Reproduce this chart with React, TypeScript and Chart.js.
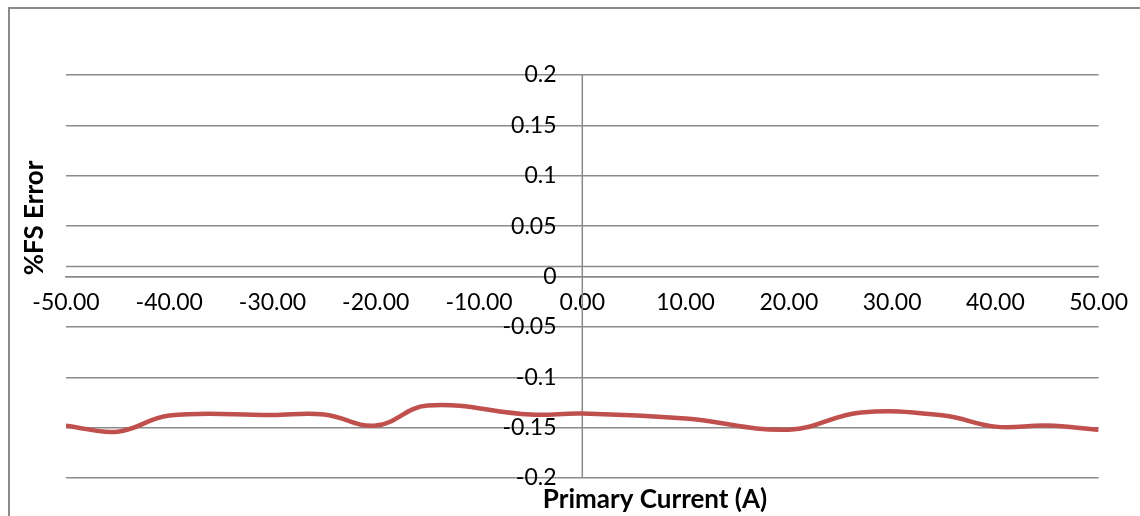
import React, { useEffect, useRef } from 'react';
import { Chart, registerables } from 'chart.js';

Chart.register(...registerables);

const currents = [-50, -45, -40, -30, -25, -20, -15, -5, 0, 10, 20, 27, 35, 40, 45, 50];
const fsError = [
  -0.148, -0.154, -0.138, -0.1375, -0.137, -0.148, -0.128, -0.137, -0.136, -0.141, -0.152,
  -0.135, -0.138, -0.149, -0.148, -0.152,
];

const xTickValues = [-50, -40, -30, -20, -10, 0, 10, 20, 30, 40, 50];
const yTickValues = [0.2, 0.15, 0.1, 0.05, 0, -0.05, -0.1, -0.15, -0.2];

const xTitle = 'Primary Current (A)';
const yTitle = '%FS Error';

const GRID = '#8a8a8a';
const FONT = 'Lato';

const axisTitles = {
  id: 'axisTitles',
  beforeDatasetsDraw(chart: Chart) {
    const { ctx, chartArea } = chart;
    const y0 = chart.scales.y.getPixelForValue(0) - 10;
    const x0 = chart.scales.x.getPixelForValue(0);
    ctx.save();
    ctx.strokeStyle = GRID;
    ctx.lineWidth = 1.5;
    ctx.beginPath();
    // second horizontal rule just above the zero line, as in the original
    ctx.moveTo(chartArea.left, y0);
    ctx.lineTo(chartArea.right, y0);
    // vertical axis line at 0 A
    ctx.moveTo(x0, chartArea.top);
    ctx.lineTo(x0, chartArea.bottom);
    ctx.stroke();
    ctx.restore();
  },
  afterDraw(chart: Chart) {
    const { ctx } = chart;
    ctx.save();
    ctx.font = `bold 26px ${FONT}`;
    ctx.fillStyle = '#000';
    ctx.textAlign = 'center';
    ctx.textBaseline = 'middle';
    ctx.fillText(xTitle, 655, 500);
    ctx.translate(35, 218);
    ctx.rotate(-Math.PI / 2);
    ctx.fillText(yTitle, 0, 0);
    ctx.restore();
  },
};

export default function App() {
  const chartRef = useRef<HTMLCanvasElement>(null);

  useEffect(() => {
    if (!chartRef.current) return;

    const chartInstance = new Chart(chartRef.current, {
      type: 'scatter',
      data: {
        datasets: [
          {
            data: currents.map((c, i) => ({ x: c, y: fsError[i] })),
            showLine: true,
            borderColor: '#C0504D',
            borderWidth: 4.5,
            pointRadius: 0,
            tension: 0.4,
          },
        ],
      },
      options: {
        responsive: true,
        maintainAspectRatio: false,
        animation: false,
        layout: {
          padding: { left: 66, right: 40, top: 75, bottom: 38 },
        },
        plugins: {
          legend: { display: false },
          tooltip: { enabled: false },
        },
        scales: {
          x: {
            type: 'linear',
            min: -50,
            max: 50,
            position: { y: 0 },
            afterBuildTicks: (scale) => {
              scale.ticks = xTickValues.map((v) => ({ value: v }));
            },
            grid: { display: false, drawTicks: false },
            border: { display: true, color: GRID, width: 1.5 },
            ticks: {
              color: '#000',
              padding: 12,
              maxRotation: 0,
              font: { family: FONT, size: 23 },
              callback: (value) => Number(value).toFixed(2),
            },
          },
          y: {
            type: 'linear',
            min: -0.2,
            max: 0.2,
            // labels sit a little left of the 0 A line
            position: { x: -2.5 },
            afterBuildTicks: (scale) => {
              scale.ticks = yTickValues.map((v) => ({ value: v }));
            },
            grid: { color: GRID, lineWidth: 1.5, drawTicks: false },
            border: { display: false },
            ticks: {
              color: '#000',
              font: { family: FONT, size: 23 },
              callback: (value) => String(Number(Number(value).toFixed(2))),
            },
          },
        },
      },
      plugins: [axisTitles],
    });

    return () => {
      chartInstance.destroy();
    };
  }, []);

  return (
    <div style={{ position: 'fixed', left: 0, top: 0, width: 1140, height: 516, background: '#fff' }}>
      <div
        style={{
          position: 'absolute',
          left: 8,
          top: 7,
          right: -10,
          bottom: -10,
          borderLeft: `2px solid ${GRID}`,
          borderTop: `2px solid ${GRID}`,
        }}
      />
      <canvas ref={chartRef} style={{ position: 'absolute', left: 0, top: 0 }}></canvas>
    </div>
  );
}
